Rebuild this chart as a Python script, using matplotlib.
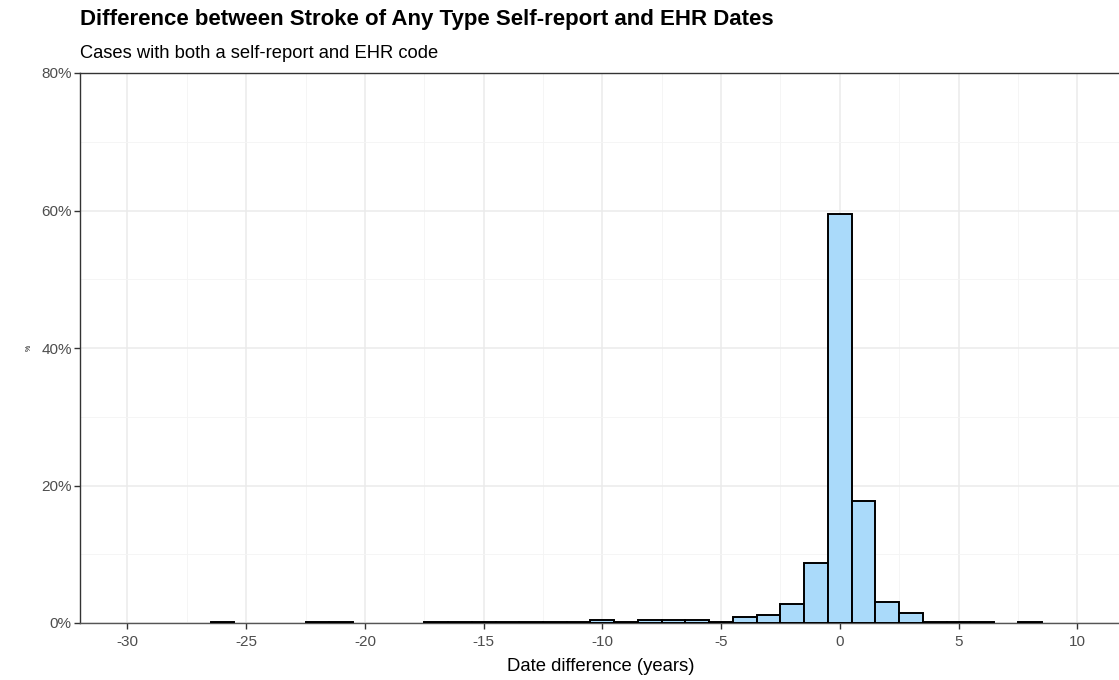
import matplotlib
matplotlib.use("Agg")
import matplotlib.pyplot as plt
from matplotlib.ticker import FuncFormatter, MultipleLocator

# Data: histogram bins (1-year bins centred on integers), percent of cases
bin_centers = [-26, -22, -21, -17, -16, -15, -14, -13, -12, -11, -10, -9, -8, -7, -6,
               -5, -4, -3, -2, -1, 0, 1, 2, 3, 4, 5, 6, 8]
pct_values = [0.2, 0.15, 0.15, 0.15, 0.15, 0.15, 0.15, 0.15, 0.15, 0.15, 0.5, 0.15, 0.5, 0.5, 0.5,
              0.2, 0.9, 1.1, 2.8, 8.7, 59.5, 17.8, 3.0, 1.4, 0.15, 0.15, 0.15, 0.2]
x_ticks = [-30, -25, -20, -15, -10, -5, 0, 5, 10]
y_ticks = [0, 20, 40, 60, 80]

title = "Difference between Stroke of Any Type Self-report and EHR Dates"
subtitle = "Cases with both a self-report and EHR code"
xlabel = "Date difference (years)"

plt.rcParams['font.family'] = ['Liberation Sans', 'DejaVu Sans']

fig = plt.figure(figsize=(11.19, 6.80), dpi=100)
ax = fig.add_axes([80 / 1119, 1 - 623 / 680, 1 - 80 / 1119 + 0.003, (623 - 73) / 680])

ax.bar(bin_centers, pct_values, width=1.0, color='#AADAFA', edgecolor='black',
       linewidth=1.4, zorder=3)

ax.set_xlim(-32.0, 11.9)
ax.set_ylim(0, 80)
ax.set_xticks(x_ticks)
ax.set_yticks(y_ticks)
ax.xaxis.set_minor_locator(MultipleLocator(2.5))
ax.yaxis.set_minor_locator(MultipleLocator(10))
ax.yaxis.set_major_formatter(FuncFormatter(lambda v, p: f"{int(v)}%"))
ax.xaxis.set_major_formatter(FuncFormatter(lambda v, p: f"{int(v)}"))

ax.grid(True, which='major', color='#EBEBEB', linewidth=1.1, zorder=0)
ax.grid(True, which='minor', color='#F4F4F4', linewidth=0.6, zorder=0)
ax.set_axisbelow(True)

for s in ax.spines.values():
    s.set_color('#333333')
    s.set_linewidth(1.0)
ax.spines['bottom'].set_color('#555555')

ax.tick_params(axis='both', which='major', length=4, width=1, color='#333333',
               labelcolor='#4D4D4D', labelsize=11)
ax.tick_params(axis='x', which='major', pad=5)
ax.tick_params(axis='y', which='major', pad=2)
ax.tick_params(axis='both', which='minor', length=0)

ax.set_xlabel(xlabel, fontsize=13.3, color='black', labelpad=6)
ax.set_ylabel("%", fontsize=5, color='black', labelpad=6)

fig.text(80 / 1119, 1 - 20 / 680, title, fontsize=16, fontweight='bold',
         ha='left', va='center', color='black')
fig.text(80 / 1119, 1 - 53 / 680, subtitle, fontsize=13.2,
         ha='left', va='center', color='black')

fig.savefig("out.png", dpi=100)
